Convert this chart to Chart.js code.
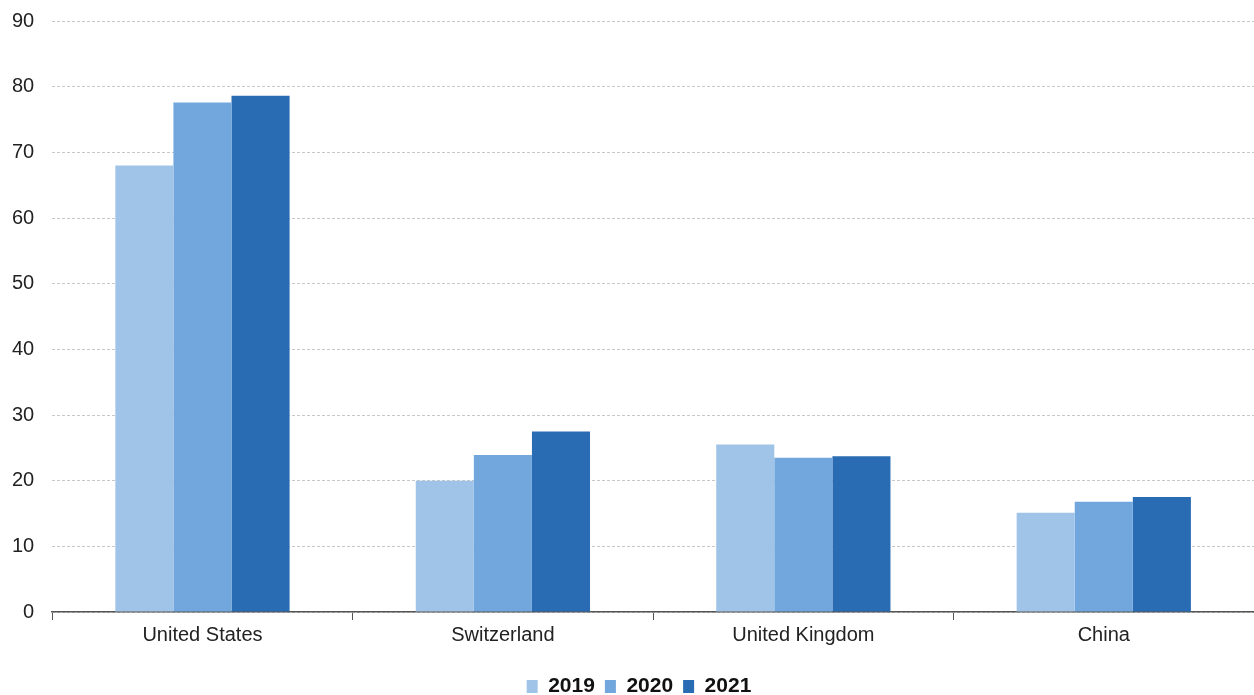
<!DOCTYPE html>
<html>
<head>
<meta charset="utf-8">
<script src="https://cdn.jsdelivr.net/npm/chart.js@4"></script>
<style>
  html, body { margin: 0; padding: 0; background: #fff; }
  #wrap { width: 1254px; height: 695px; position: relative; }
</style>
</head>
<body>
<div id="wrap"><canvas id="chart"></canvas></div>
<script>
// data
const countries = ['United States', 'Switzerland', 'United Kingdom', 'China'];
const years = ['2019', '2020', '2021'];
const values2019 = [68.0, 20.0, 25.5, 15.1];
const values2020 = [77.6, 23.9, 23.5, 16.8];
const values2021 = [78.6, 27.5, 23.7, 17.5];
const yTicks = [0, 10, 20, 30, 40, 50, 60, 70, 80, 90];

const colors = ['#9fc4e8', '#72a7dd', '#2a6cb3'];
const series = [values2019, values2020, values2021];

const datasets = years.map((y, i) => ({
  label: y,
  data: series[i],
  backgroundColor: colors[i],
  borderWidth: 0,
  categoryPercentage: 0.58,
  barPercentage: 1.0
}));

const font = 'Liberation Sans, Arial, sans-serif';

// nudge the legend a bit to the right, like in the original
const shiftLegend = {
  id: 'shiftLegend',
  afterLayout(chart) {
    if (chart.legend) chart.legend.left += 30;
  }
};

new Chart(document.getElementById('chart'), {
  type: 'bar',
  data: { labels: countries, datasets: datasets },
  plugins: [shiftLegend],
  options: {
    responsive: true,
    maintainAspectRatio: false,
    animation: false,
    layout: { padding: { top: 21, right: 0, left: -6, bottom: -12 } },
    plugins: {
      tooltip: { enabled: false },
      legend: {
        position: 'bottom',
        labels: {
          boxWidth: 11,
          boxHeight: 13,
          padding: 10,
          color: '#111',
          font: { family: font, size: 21, weight: 'bold' }
        }
      }
    },
    scales: {
      x: {
        afterFit: axis => { axis.height += 16; },
        grid: {
          offset: true,
          drawOnChartArea: false,
          drawTicks: true,
          tickLength: 8,
          color: '#555'
        },
        border: { display: true, color: '#555', width: 1.5 },
        ticks: {
          color: '#222',
          padding: 3,
          font: { family: font, size: 20 }
        }
      },
      y: {
        min: 0,
        max: 90,
        afterBuildTicks: axis => { axis.ticks = yTicks.map(v => ({ value: v })); },
        afterFit: axis => { axis.paddingTop = 0; },
        grid: {
          color: '#c8c8c8',
          drawTicks: false
        },
        border: { display: false, dash: [3, 2] },
        ticks: {
          color: '#222',
          padding: 18,
          font: { family: font, size: 20 }
        }
      }
    }
  }
});
</script>
</body>
</html>
